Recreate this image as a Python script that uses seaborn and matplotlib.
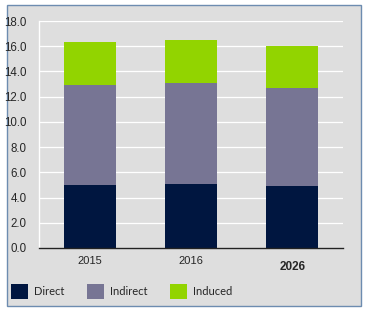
import numpy as np
import pandas as pd
import matplotlib
matplotlib.use("Agg")
import matplotlib.pyplot as plt
import matplotlib.patches as mpatches
import matplotlib.transforms as mtrans
import seaborn as sns

# dati
anni = ["2015", "2016", "2026"]
direct = [5.0, 5.1, 4.9]
indirect = [7.9, 8.0, 7.8]
induced = [3.4, 3.4, 3.3]
serie = ["Direct", "Indirect", "Induced"]
colori = ["#001640", "#777594", "#92d400"]

df = pd.DataFrame({"anno": anni, "Direct": direct, "Indirect": indirect, "Induced": induced})
df["liv2"] = df["Direct"] + df["Indirect"]
df["liv3"] = df["liv2"] + df["Induced"]

sns.set_style("white")
plt.rcParams["font.family"] = ["Liberation Sans", "DejaVu Sans"]

fig = plt.figure(figsize=(3.74, 3.18), dpi=100)
fig.patch.set_facecolor("white")
# pannello grigio con bordo blu
pannello = mpatches.Rectangle((7 / 374, 1 - 305.5 / 318), 354 / 374, 300.5 / 318,
                              transform=fig.transFigure, facecolor="#dedede",
                              edgecolor="#6d8cb0", linewidth=1.0, zorder=-1)
fig.patches.append(pannello)

ax = fig.add_axes([39 / 374, 70 / 318, 304 / 374, 227 / 318])
ax.set_zorder(1)
ax.set_facecolor("#dedede")

# barre impilate: prima il totale, poi i livelli inferiori
for col, colore in zip(["liv3", "liv2", "Direct"], colori[::-1]):
    sns.barplot(data=df, x="anno", y=col, color=colore, width=0.51,
                saturation=1, linewidth=0, ax=ax, zorder=3)

ax.set_ylim(0, 18)
ax.set_xlim(-0.5, 2.5)
ax.set_yticks(np.arange(0, 19, 2))
ax.set_yticklabels([f"{v:.1f}" for v in np.arange(0, 19, 2)], fontsize=8.3)
ax.yaxis.grid(True, color="white", linewidth=0.9, zorder=0)
ax.set_axisbelow(True)
ax.tick_params(axis="y", length=0, pad=9)
ax.set_xlabel("")
ax.set_ylabel("")

ax.set_xticks([-0.5, 0.5, 1.5, 2.5], minor=True)
ax.tick_params(axis="x", which="minor", length=4, direction="inout", width=1, color="#222222")
ax.tick_params(axis="x", which="major", length=0, labelsize=8, pad=6)
etichette = ax.get_xticklabels()
etichette[2].set_fontweight("bold")
etichette[2].set_fontsize(8.5)
etichette[2].set_transform(etichette[2].get_transform() +
                           mtrans.ScaledTranslation(0, -5 / 100, fig.dpi_scale_trans))

for lato in ["top", "right"]:
    ax.spines[lato].set_visible(False)
ax.spines["left"].set_color("white")
ax.spines["left"].set_linewidth(1.0)
ax.spines["bottom"].set_color("#222222")
ax.spines["bottom"].set_linewidth(1.0)
ax.spines["bottom"].set_zorder(5)

maniglie = [mpatches.Patch(facecolor=c, edgecolor="none", label=s) for s, c in zip(serie, colori)]
fig.legend(handles=maniglie, loc="lower left", bbox_to_anchor=(7 / 374, 15 / 318),
           ncol=3, frameon=False, handlelength=1.5, handleheight=1.6,
           handletextpad=0.5, columnspacing=2.1, borderaxespad=0,
           prop={"family": ["Lato", "DejaVu Sans"], "size": 8})

fig.savefig("out.png", dpi=100)
